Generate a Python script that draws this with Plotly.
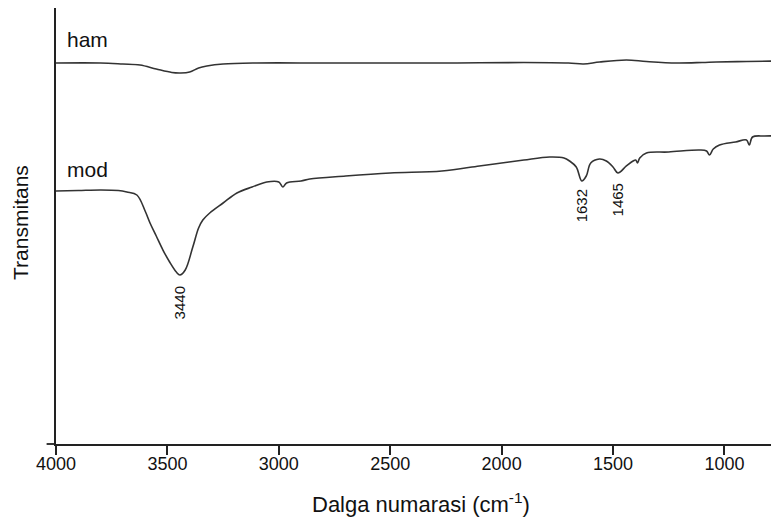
import plotly.graph_objects as go

# Wavenumbers (cm^-1) and transmittance (arbitrary %)
ham_wn = [4000, 3800, 3700, 3623, 3550, 3480, 3440, 3400, 3360, 3323, 3250, 3100,
          2800, 2500, 2200, 1900, 1700, 1632, 1560, 1440, 1350, 1215, 1100, 1036, 900, 755]
ham_t = [88.08, 88.08, 87.85, 87.62, 86.68, 85.86, 85.75, 85.98, 86.92, 87.38, 87.85, 88.08,
         88.08, 88.08, 88.08, 88.20, 88.08, 87.85, 88.32, 88.79, 88.43, 88.08, 88.20, 88.32, 88.43, 88.55]

mod_wn = [4000, 3900, 3800, 3720, 3682, 3637, 3600, 3578, 3550, 3520, 3490, 3460, 3444,
          3420, 3386, 3360, 3341, 3310, 3250, 3188, 3120, 3054, 3000, 2982, 2965, 2900,
          2861, 2700, 2500, 2268, 2100, 2000, 1900, 1785, 1720, 1695, 1665, 1640, 1620,
          1600, 1561, 1530, 1500, 1478, 1440, 1410, 1398, 1390, 1380, 1350, 1250, 1112,
          1080, 1067, 1050, 1022, 950, 901, 888, 874, 820, 755]
mod_t = [58.18, 58.29, 58.41, 58.29, 57.94, 57.24, 53.50, 50.70, 47.66, 44.39, 41.59, 39.25, 38.55,
         39.72, 45.09, 49.53, 51.40, 53.04, 55.37, 57.71, 59.11, 60.28, 60.28, 59.11, 60.05, 60.51,
         60.98, 61.68, 62.38, 62.85, 64.02, 64.72, 65.42, 66.12, 65.89, 65.19, 63.79, 60.51, 61.68,
         64.72, 65.65, 65.19, 63.79, 62.38, 64.02, 65.19, 65.42, 64.72, 65.89, 67.06, 67.29, 67.76,
         67.52, 66.59, 67.99, 68.93, 69.63, 70.09, 68.93, 70.79, 71.03, 71.03]

peak_wn = [3444, 1640, 1478]
peak_t = [38.55, 60.51, 62.38]
peak_labels = ["3440", "1632", "1465"]

series_names = ["ham", "mod"]
label_wn = [3960, 3960]
label_t = [93.5, 63.1]
x_ticks = [4000, 3500, 3000, 2500, 2000, 1500, 1000]

line_col = "#333333"
txt_col = "#111111"
font = "Liberation Sans, Arial, sans-serif"

fig = go.Figure()
fig.add_trace(go.Scatter(x=ham_wn, y=ham_t, mode="lines", name=series_names[0],
                         line=dict(color=line_col, width=1.6), line_shape="spline"))
fig.add_trace(go.Scatter(x=mod_wn, y=mod_t, mode="lines", name=series_names[1],
                         line=dict(color=line_col, width=1.6), line_shape="spline"))

shifts = [-9, -6, -8]
for x, y, t, s in zip(peak_wn, peak_t, peak_labels, shifts):
    fig.add_annotation(x=x, y=y, text=t, textangle=-90, showarrow=False,
                       xanchor="center", yanchor="top", yshift=s,
                       font=dict(family=font, size=15, color=txt_col))

for x, y, t in zip(label_wn, label_t, series_names):
    fig.add_annotation(x=x, y=y, text=t, showarrow=False, xanchor="left",
                       yanchor="middle", font=dict(family=font, size=21, color=txt_col))

# axis titles
fig.add_annotation(xref="paper", yref="paper", x=0.505, y=-0.135,
                   text="Dalga numarasi (cm<sup>-1</sup>)", showarrow=False,
                   xanchor="center", yanchor="middle",
                   font=dict(family=font, size=22, color=txt_col))
fig.add_annotation(xref="paper", yref="paper", x=-0.05, y=0.509,
                   text="Transmitans", textangle=-90, showarrow=False,
                   xanchor="center", yanchor="middle",
                   font=dict(family=font, size=21, color=txt_col))

# small extension of the x-axis line to the left of the y axis
fig.add_shape(type="line", xref="paper", yref="paper", x0=-0.013, x1=0, y0=0, y1=0,
              line=dict(color="#222", width=1.8))

# the page body adds an 8px offset, so the figure is sized to fill the window
fig.update_layout(
    width=771, height=514,
    margin=dict(l=48, r=0, t=0, b=78),
    paper_bgcolor="white", plot_bgcolor="white",
    showlegend=False,
    font=dict(family=font, color=txt_col),
    xaxis=dict(range=[4000, 755], tickvals=x_ticks, ticks="outside", ticklen=9,
               tickwidth=1.5, tickcolor="#222", showline=True, linecolor="#222", linewidth=1.8,
               showgrid=False, zeroline=False, automargin=False, ticklabelstandoff=-7,
               tickfont=dict(size=18, family=font, color=txt_col)),
    yaxis=dict(range=[-0.93, 100.93], showticklabels=False, ticks="", showline=True,
               linecolor="#222", linewidth=1.8, showgrid=False, zeroline=False,
               automargin=False),
)

fig.write_html("out.html")
